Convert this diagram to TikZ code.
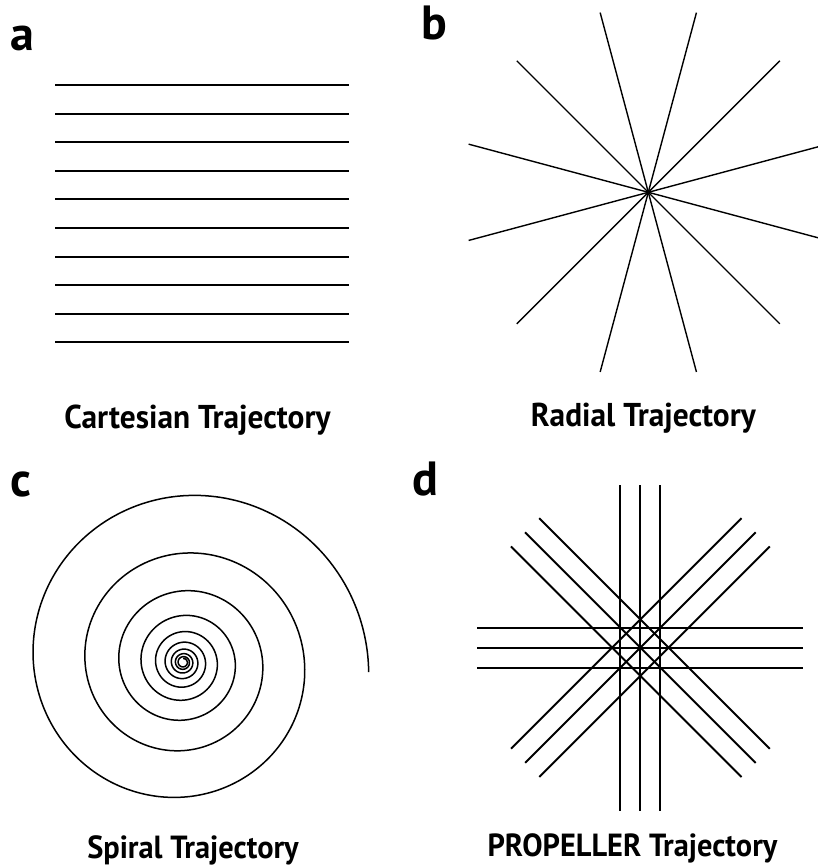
\documentclass[tikz,border=0pt]{standalone}
\usepackage{fontspec}
\setmainfont{PT Sans}
\newfontfamily\capfont{PT Sans}[FakeStretch=0.95]
\usetikzlibrary{calc}
\begin{document}
\begin{tikzpicture}[x=1pt, y=-1pt,
    letter/.style={anchor=base west, inner sep=0pt, font=\bfseries\fontsize{48}{48}\selectfont},
    caption/.style={anchor=base, inner sep=0pt, font=\capfont\bfseries\fontsize{33}{40}\selectfont},
    traj/.style={draw=black, line width=1.6pt}]
  \useasboundingbox (0,0) rectangle (818,867);
  \coordinate (hub) at (648.3,192.3);
  \coordinate (spc) at (183.2,662.3);
  \coordinate (prop) at (640.4,647.6);
  \node[letter] (la) at (10,50.5) {a};
  \node[letter] (lb) at (421,39.3) {b};
  \node[letter] (lc) at (10,496.7) {c};
  \node[letter] (ld) at (412,495) {d};
  \foreach \k in {0,...,9}
    \draw[traj, line width=1.8pt] (55.3,{round(85+28.6*\k)}) -- (349.3,{round(85+28.6*\k)});
  \foreach \a in {15,45,...,165}
    \draw[traj, line width=1.4pt] ($(hub)+(\a:186)$) -- ($(hub)+(\a+180:186)$);
  \draw[traj, line width=1.5pt] plot[domain=-3:3330, samples=1400, smooth]
    ({183.2+185.1*exp(-0.0011707*\x)*cos(\x)}, {662.3-185.1*exp(-0.0011707*\x)*sin(\x)});
  \foreach \a in {0,45,90,135}
    \foreach \o in {-20,0,20}
      \draw[traj, line width=2pt, shift={(prop)}, rotate=\a] (-163,\o) -- (163,\o);
  \node[caption] (cart) at (197.5,428) {Cartesian Trajectory};
  \node[caption] (rad) at (643.3,426.7) {Radial Trajectory};
  \node[caption, font=\capfont\bfseries\fontsize{32}{40}\selectfont] (spi) at (193,858) {Spiral Trajectory};
  \node[caption, font=\capfont\bfseries\fontsize{32}{40}\selectfont] (pro) at (632.5,856) {PROPELLER Trajectory};
\end{tikzpicture}
\end{document}
